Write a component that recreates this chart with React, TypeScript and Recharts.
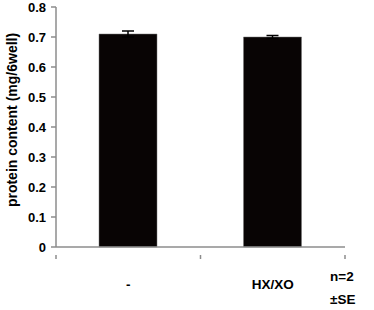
import React from 'react';
import { BarChart, Bar, XAxis, YAxis, ErrorBar } from 'recharts';

const categories = ['-', 'HX/XO'];
const proteinContent = [0.71, 0.7];
const standardErrors = [0.01, 0.005];
const yTicks = [0, 0.1, 0.2, 0.3, 0.4, 0.5, 0.6, 0.7, 0.8];
const yLabel = 'protein content (mg/6well)';
const noteLines = ['n=2', '±SE'];

const data = categories.map((c, i) => ({
  name: c,
  idx: i + 0.5,
  value: proteinContent[i],
  se: standardErrors[i],
}));

const gridTicks = [0, 0.5, 1, 1.5, 2];
const FONT = '"Liberation Sans", Arial, sans-serif';

const BoundaryTick = (props: any) => {
  const { x, y, payload } = props;
  const v = payload.value as number;
  if (Number.isInteger(v)) {
    return <line x1={x} y1={y} x2={x} y2={y + 4} stroke="#8c8c8c" strokeWidth={1.5} />;
  }
  const label = categories[Math.floor(v)];
  return (
    <text x={x} y={y + 34} textAnchor="middle" fontFamily={FONT} fontWeight="bold" fontSize={13.5} fill="#000">
      {label}
    </text>
  );
};

export default function App() {
  return (
    <div style={{ position: 'absolute', left: 0, top: 0, background: '#fff' }}>
      <BarChart
        width={374}
        height={310}
        data={data}
        margin={{ top: 7, right: 29, bottom: 0, left: 0 }}
        barSize={58}
      >
        <XAxis dataKey="name" xAxisId="cat" hide height={0} />
        <XAxis
          xAxisId="grid"
          type="number"
          dataKey="idx"
          domain={[0, 2]}
          ticks={gridTicks}
          interval={0}
          tickLine={false}
          tick={<BoundaryTick />}
          axisLine={{ stroke: '#8c8c8c', strokeWidth: 1.5 }}
          height={63}
          label={{
            content: (p: any) => {
              const vb = p.viewBox;
              const x0 = vb.x + vb.width - 15;
              return (
                <g>
                  {noteLines.map((t, i) => (
                    <text key={t} x={x0} y={vb.y + 34 + i * 23} textAnchor="start" fontFamily={FONT} fontWeight="bold" fontSize={13.5} fill="#000">
                      {t}
                    </text>
                  ))}
                </g>
              );
            },
          }}
        />
        <YAxis
          width={56}
          domain={[0, 0.8]}
          ticks={yTicks}
          interval={0}
          tickSize={5}
          tickMargin={5}
          tickFormatter={(v: number) => (v === 0 ? '0' : v.toFixed(1))}
          tick={{ fontFamily: FONT, fontWeight: 'bold', fontSize: 13, fill: '#000' }}
          axisLine={{ stroke: '#8c8c8c', strokeWidth: 1.5 }}
          tickLine={{ stroke: '#8c8c8c', strokeWidth: 1.5 }}
          label={{
            content: (p: any) => {
              const vb = p.viewBox;
              const cx = 12;
              const cy = vb.y + vb.height / 2 - 7;
              return (
                <text
                  x={cx}
                  y={cy}
                  transform={`rotate(-90, ${cx}, ${cy})`}
                  textAnchor="middle"
                  dominantBaseline="central"
                  fontFamily={FONT}
                  fontWeight="bold"
                  fontSize={14}
                  fill="#000"
                >
                  {yLabel}
                </text>
              );
            },
          }}
        />
        <Bar dataKey="value" xAxisId="cat" fill="#080404" stroke="#777" strokeWidth={0.5} isAnimationActive={false}>
          <ErrorBar dataKey="se" direction="y" width={6} stroke="#000" strokeWidth={1.5} />
        </Bar>
      </BarChart>
    </div>
  );
}
